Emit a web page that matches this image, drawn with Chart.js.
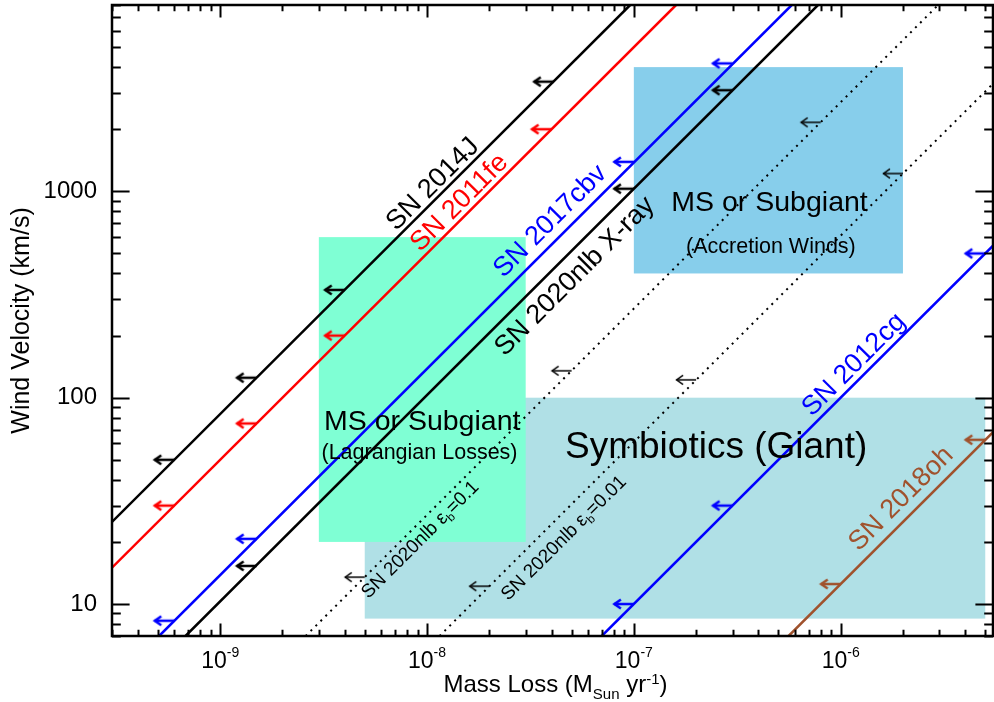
<!DOCTYPE html>
<html>
<head>
<meta charset="utf-8">
<script src="https://cdn.jsdelivr.net/npm/chart.js@4.4.1/dist/chart.umd.min.js"></script>
<style>
html, body { margin: 0; padding: 0; background: #fff; }
canvas { display: block; }
</style>
</head>
<body>
<canvas id="myChart" width="994" height="702"></canvas>
<script>
const FONT = '"Liberation Sans", Arial, Helvetica, sans-serif';

// axis ranges
const massMin = 3e-10, massMax = 5.45e-6;
const velMin = 7, velMax = 8000;
const xTickValues = [1e-9, 1e-8, 1e-7, 1e-6];
const xTickExps = ['-9', '-8', '-7', '-6'];

// limit lines: two end points each [mass loss, wind velocity]
const sn2014J = [[3e-10, 25], [9.6e-8, 8000]];
const sn2011fe = [[3e-10, 15], [1.6e-7, 8000]];
const sn2017cbv = [[5.07e-10, 7], [5.8e-7, 8000]];
const sn2020nlbXray = [[6.8e-10, 7], [7.77e-7, 8000]];
const sn2020nlbEps01 = [[2.59e-9, 7], [2.96e-6, 8000]];
const sn2020nlbEps001 = [[1.15e-8, 7], [5.45e-6, 3325]];
const sn2012cg = [[7e-8, 7], [5.45e-6, 545]];
const sn2018oh = [[5.6e-7, 7], [5.45e-6, 68]];

// upper-limit arrows sitting on each line
const sn2014JArrows = [[6e-10, 50], [1.5e-9, 125], [4e-9, 333], [4.1e-8, 3400]];
const sn2011feArrows = [[6e-10, 30], [1.5e-9, 75], [4e-9, 200], [4e-8, 2000]];
const sn2017cbvArrows = [[6e-10, 8.3], [1.5e-9, 20.7], [1e-7, 1390], [3e-7, 4170]];
const sn2020nlbXrayArrows = [[1.5e-9, 15.3], [1e-7, 1030], [3e-7, 3090]];
const sn2020nlbEps01Arrows = [[5e-9, 13.5], [5e-8, 135], [8e-7, 2160]];
const sn2020nlbEps001Arrows = [[2e-8, 12.2], [2e-7, 122], [2e-6, 1220]];
const sn2012cgArrows = [[1e-7, 10], [3e-7, 30], [5e-6, 500]];
const sn2018ohArrows = [[1e-6, 12.5], [5e-6, 62.5]];

// donor regions [mass min, mass max, vel min, vel max]
const symbioticBox = [5e-9, 5e-6, 8.5, 100];
const lagrangianBox = [3e-9, 3e-8, 20, 600];
const accretionBox = [1e-7, 2e-6, 400, 4000];

const series = [
    { name: 'SN 2014J', pts: sn2014J, arrows: sn2014JArrows, color: '#000000', dotted: false },
    { name: 'SN 2011fe', pts: sn2011fe, arrows: sn2011feArrows, color: '#FF0000', dotted: false },
    { name: 'SN 2017cbv', pts: sn2017cbv, arrows: sn2017cbvArrows, color: '#0000FF', dotted: false },
    { name: 'SN 2020nlb X-ray', pts: sn2020nlbXray, arrows: sn2020nlbXrayArrows, color: '#000000', dotted: false },
    { name: 'eps01', pts: sn2020nlbEps01, arrows: sn2020nlbEps01Arrows, color: '#000000', dotted: true },
    { name: 'eps001', pts: sn2020nlbEps001, arrows: sn2020nlbEps001Arrows, color: '#000000', dotted: true },
    { name: 'SN 2012cg', pts: sn2012cg, arrows: sn2012cgArrows, color: '#0000FF', dotted: false },
    { name: 'SN 2018oh', pts: sn2018oh, arrows: sn2018ohArrows, color: '#A0522D', dotted: false }
];

// rotated labels: series index, text parts, centre in data units
const lineLabels = [
    { s: 0, parts: [['SN 2014J', 27, 0]], x: 1.05e-8, y: 1101 },
    { s: 1, parts: [['SN 2011fe', 27, 0]], x: 1.41e-8, y: 896 },
    { s: 2, parts: [['SN 2017cbv', 27, 0]], x: 3.88e-8, y: 728 },
    { s: 3, parts: [['SN 2020nlb X-ray', 27, 0]], x: 5.1e-8, y: 394 },
    { s: 4, parts: [['SN 2020nlb \u03b5', 19, 0], ['b', 12, 4], ['=0.1', 19, 0]], x: 9.18e-9, y: 20.7 },
    { s: 5, parts: [['SN 2020nlb \u03b5', 19, 0], ['b', 12, 4], ['=0.01', 19, 0]], x: 4.54e-8, y: 21.1 },
    { s: 6, parts: [['SN 2012cg', 27, 0]], x: 1.14e-6, y: 147 },
    { s: 7, parts: [['SN 2018oh', 27, 0]], x: 1.93e-6, y: 32.9 }
];

const boxLabels = [
    { text: 'MS or Subgiant', size: 28.5, x: 9.48e-9, y: 69.5 },
    { text: '(Lagrangian Losses)', size: 21.5, x: 9.2e-9, y: 50.2 },
    { text: 'MS or Subgiant', size: 28.5, x: 4.53e-7, y: 800 },
    { text: '(Accretion Winds)', size: 21.5, x: 4.6e-7, y: 503 },
    { text: 'Symbiotics (Giant)', size: 37, x: 2.5e-7, y: 50.8 }
];

function makeArrow(color, width, head) {
    let c = document.createElement('canvas');
    c.width = 46;
    c.height = 16;
    let g = c.getContext('2d');
    g.strokeStyle = color;
    g.lineWidth = width;
    g.beginPath();
    g.moveTo(23, 8);
    g.lineTo(3, 8);
    g.stroke();
    g.beginPath();
    g.moveTo(3 + head, 8 - head * 0.65);
    g.lineTo(3.5, 8);
    g.lineTo(3 + head, 8 + head * 0.65);
    g.stroke();
    return c;
}

function richText(ctx, parts, x, y) {
    let total = 0;
    parts.forEach(p => {
        ctx.font = p[1] + 'px ' + FONT;
        total += ctx.measureText(p[0]).width;
    });
    let cx = x - total / 2;
    ctx.textAlign = 'left';
    ctx.textBaseline = 'alphabetic';
    parts.forEach(p => {
        ctx.font = p[1] + 'px ' + FONT;
        ctx.fillText(p[0], cx, y + p[2]);
        cx += ctx.measureText(p[0]).width;
    });
}

let datasets = [];
series.forEach(s => {
    datasets.push({
        data: s.pts.map(p => ({ x: p[0], y: p[1] })),
        showLine: true,
        borderColor: s.color,
        borderWidth: s.dotted ? 2 : 2.5,
        borderDash: s.dotted ? [2, 5] : [],
        pointRadius: 0,
        clip: 0
    });
});
series.forEach(s => {
    let img = s.dotted ? makeArrow('#000000', 1.5, 7) : makeArrow(s.color, 2.5, 7);
    datasets.push({
        data: s.arrows.map(p => ({ x: p[0], y: p[1] })),
        showLine: false,
        pointStyle: img,
        pointRadius: 3,
        clip: 0
    });
});

const decor = {
    id: 'decor',
    beforeDatasetsDraw(chart) {
        const { ctx, scales: { x, y } } = chart;
        ctx.save();
        [[symbioticBox, '#B0E0E6'], [lagrangianBox, '#7FFFD4'], [accretionBox, '#87CEEB']].forEach(b => {
            let x0 = x.getPixelForValue(b[0][0]), x1 = x.getPixelForValue(b[0][1]);
            let y0 = y.getPixelForValue(b[0][3]), y1 = y.getPixelForValue(b[0][2]);
            ctx.fillStyle = b[1];
            ctx.fillRect(x0, y0, x1 - x0, y1 - y0);
        });
        ctx.restore();
    },
    afterDatasetsDraw(chart) {
        const { ctx, chartArea: a, scales: { x, y } } = chart;
        ctx.save();

        // box captions
        ctx.fillStyle = '#000';
        boxLabels.forEach(l => {
            richText(ctx, [[l.text, l.size, 0]], x.getPixelForValue(l.x), y.getPixelForValue(l.y));
        });

        // line labels along the lines
        lineLabels.forEach(l => {
            let s = series[l.s];
            let p0x = x.getPixelForValue(s.pts[0][0]), p0y = y.getPixelForValue(s.pts[0][1]);
            let p1x = x.getPixelForValue(s.pts[1][0]), p1y = y.getPixelForValue(s.pts[1][1]);
            let ang = Math.atan2(p1y - p0y, p1x - p0x);
            ctx.save();
            ctx.translate(x.getPixelForValue(l.x), y.getPixelForValue(l.y));
            ctx.rotate(ang);
            ctx.fillStyle = s.color;
            richText(ctx, l.parts, 0, l.parts[0][1] * 0.36);
            ctx.restore();
        });

        // frame
        ctx.strokeStyle = '#000';
        ctx.lineWidth = 2.5;
        ctx.strokeRect(a.left, a.top, a.right - a.left, a.bottom - a.top);

        // inside ticks on all four sides
        ctx.lineWidth = 2;
        ctx.beginPath();
        for (let e = -10; e <= -5; e++) {
            for (let m = 1; m <= 9; m++) {
                let v = m * Math.pow(10, e);
                if (v < massMin || v > massMax) continue;
                let px = Math.round(x.getPixelForValue(v)) + 0.5;
                let len = m === 1 ? 12.5 : 6.3;
                ctx.moveTo(px, a.bottom); ctx.lineTo(px, a.bottom - len);
                ctx.moveTo(px, a.top); ctx.lineTo(px, a.top + len);
            }
        }
        for (let e = 0; e <= 3; e++) {
            for (let m = 1; m <= 9; m++) {
                let v = m * Math.pow(10, e);
                if (v < velMin || v > velMax) continue;
                let py = Math.round(y.getPixelForValue(v)) + 0.5;
                let len = m === 1 ? 17.6 : 8.8;
                ctx.moveTo(a.left, py); ctx.lineTo(a.left + len, py);
                ctx.moveTo(a.right, py); ctx.lineTo(a.right - len, py);
            }
        }
        ctx.stroke();

        // x tick labels with exponents
        ctx.fillStyle = '#000';
        xTickValues.forEach((v, i) => {
            richText(ctx, [['10', 23, 0], [xTickExps[i], 14, -10.5]], x.getPixelForValue(v), a.bottom + 31.7);
        });

        // x axis title
        richText(ctx, [['Mass Loss (M', 24, 0], ['Sun', 15, 6.5], [' yr', 24, 0], ['-1', 15, -8.5], [')', 24, 0]],
            (a.left + a.right) / 2 + 3, a.bottom + 56.3);
        ctx.restore();
    }
};

let ctx = document.getElementById('myChart').getContext('2d');
let myChart = new Chart(ctx, {
    type: 'scatter',
    data: { datasets: datasets },
    options: {
        responsive: false,
        devicePixelRatio: 1,
        animation: false,
        layout: { autoPadding: false, padding: { top: 5, right: 1, bottom: 66, left: 0 } },
        plugins: {
            legend: { display: false },
            tooltip: { enabled: false }
        },
        scales: {
            x: {
                type: 'logarithmic',
                min: massMin,
                max: massMax,
                display: false
            },
            y: {
                type: 'logarithmic',
                position: 'left',
                min: velMin,
                max: velMax,
                grid: { display: false },
                border: { display: false },
                ticks: {
                    autoSkip: false,
                    color: '#000',
                    padding: 7,
                    font: { family: FONT, size: 24 },
                    callback: function (value) {
                        let l = Math.log10(value);
                        return Math.abs(l - Math.round(l)) < 1e-6 ? String(Math.round(value)) : '';
                    }
                },
                title: {
                    display: true,
                    text: 'Wind Velocity (km/s)',
                    color: '#000',
                    font: { family: FONT, size: 25 },
                    padding: { top: 7.5, bottom: 0 }
                },
                afterFit: function (scale) {
                    scale.width = 112;
                    scale.paddingTop = 0;
                    scale.paddingBottom = 0;
                }
            }
        }
    },
    plugins: [decor]
});
</script>
</body>
</html>
